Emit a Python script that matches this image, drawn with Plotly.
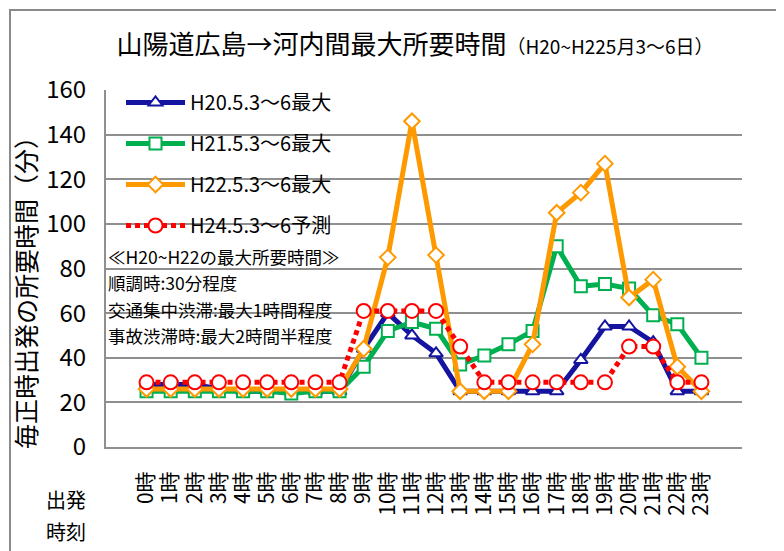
import plotly.graph_objects as go

hours = [f"{h}時" for h in range(24)]

h20_max = [28, 28, 28, 26, 25, 25, 25, 25, 25, 44, 60, 50, 42, 25, 25, 25, 25, 25, 39, 54, 54, 47, 25, 25]
h21_max = [25, 25, 25, 25, 25, 25, 24, 25, 25, 36, 52, 56, 53, 37, 41, 46, 52, 90, 72, 73, 71, 59, 55, 40]
h22_max = [26, 26, 26, 26, 26, 26, 26, 26, 26, 44, 85, 146, 86, 25, 25, 25, 46, 105, 114, 127, 67, 75, 36, 25]
h24_pred = [29, 29, 29, 29, 29, 29, 29, 29, 29, 61, 61, 61, 61, 45, 29, 29, 29, 29, 29, 29, 45, 45, 29, 29]

series_names = ["H20.5.3～6最大", "H21.5.3～6最大", "H22.5.3～6最大", "H24.5.3～6予測"]

JP = "Noto Sans CJK JP"
NARROW = "Liberation Sans Narrow, Arial Narrow, Noto Sans CJK JP"
GRID = "#8f8f8f"

# page body has an 8px margin; figure sized to fit the window
OFF = 8
W, H = 784 - OFF, 551 - OFF
PL, PR, PT, PB = 106, 742, 90, 447  # plot area in window pixels


def px_x(X):
    return (X - PL) / (PR - PL)


def px_y(Y):
    return (PB - Y) / (PB - PT)


fig = go.Figure()
styles = [
    (h20_max, "#1414A0", "triangle-up", 12, "solid", 5),
    (h21_max, "#00B050", "square", 12, "solid", 5),
    (h22_max, "#FF9900", "diamond", 12, "solid", 5),
    (h24_pred, "#FF0000", "circle", 14, "5px,4px", 5),
]
for i, (vals, col, sym, ms, dash, lw) in enumerate(styles):
    fig.add_trace(go.Scatter(
        x=hours, y=vals, name=series_names[i], mode="lines+markers",
        legendgroup=f"g{i}",
        line=dict(color=col, width=lw, dash=dash),
        marker=dict(symbol=sym, size=ms, color="white",
                    line=dict(color=col, width=2)),
    ))

notes = ["≪H20~H22の最大所要時間≫", "順調時:30分程度", "交通集中渋滞:最大1時間程度", "事故渋滞時:最大2時間半程度"]
note_y = [256, 282, 309, 335]

annotations = []
for t, yp in zip(notes, note_y):
    annotations.append(dict(text=t, xref="paper", yref="paper", x=px_x(106),
                            y=px_y(yp), xanchor="left", yanchor="middle",
                            showarrow=False, font=dict(family=JP, size=17.5, color="black")))
annotations.append(dict(text="毎正時出発の所要時間（分）", xref="paper", yref="paper",
                        x=px_x(25), y=px_y(287), textangle=-90,
                        xanchor="center", yanchor="middle", showarrow=False,
                        font=dict(family=JP, size=25, color="black")))
annotations.append(dict(text="出発", xref="paper", yref="paper", x=px_x(66),
                        y=px_y(500), xanchor="center", yanchor="middle",
                        showarrow=False, font=dict(family=JP, size=20, color="black")))
annotations.append(dict(text="時刻", xref="paper", yref="paper", x=px_x(66),
                        y=px_y(531), xanchor="center", yanchor="middle",
                        showarrow=False, font=dict(family=JP, size=20, color="black")))

fig.update_layout(
    width=W, height=H,
    margin=dict(l=PL - OFF, r=W - (PR - OFF), t=PT - OFF, b=H - (PB - OFF)),
    paper_bgcolor="white", plot_bgcolor="white",
    title=dict(text="山陽道広島→河内間最大所要時間<span style='font-size:19px'>（H20~H225月3～6日）</span>",
               x=(415 - OFF) / W, xanchor="center", y=1 - (45 - OFF) / H, yanchor="middle",
               font=dict(family=JP, size=26, color="black")),
    showlegend=True,
    legend=dict(x=px_x(121), y=px_y(83), xanchor="left", yanchor="top",
                bgcolor="rgba(0,0,0,0)", font=dict(family=JP, size=20, color="black"),
                traceorder="grouped", tracegroupgap=12, itemwidth=59),
    annotations=annotations,
    shapes=[dict(type="rect", xref="paper", yref="paper",
                 x0=px_x(10), x1=px_x(800),
                 y0=px_y(10), y1=px_y(570),
                 line=dict(color="#8a8a8a", width=2), fillcolor="rgba(0,0,0,0)", layer="below")],
)
fig.update_xaxes(type="category", tickangle=-90, showgrid=False,
                 tickmode="array", tickvals=hours, ticktext=hours,
                 showline=True, linecolor=GRID, linewidth=2,
                 tickfont=dict(family=JP, size=21, color="black"), ticks="",
                 ticklabelstandoff=14)
fig.update_yaxes(range=[0, 160], dtick=20, showgrid=True, gridcolor=GRID, gridwidth=2,
                 showline=True, linecolor=GRID, linewidth=2, zeroline=False,
                 tickfont=dict(family=NARROW, size=24, color="black"), ticks="",
                 ticklabelstandoff=13)

fig.write_html("out.html")
